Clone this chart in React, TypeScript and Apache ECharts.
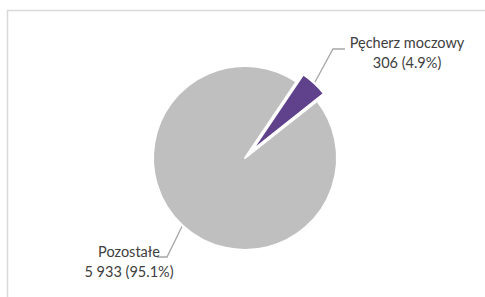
import React, { useEffect, useRef } from "react";
import * as echarts from "echarts";

const categories = ["Pęcherz moczowy", "Pozostałe"];
const values = [306, 5933];
const colors = ["#60418c", "#bfbfbf"];
const explodedIndex = 0;
const labelPositions = [
  [407, 52],
  [129, 261],
];

function fmtNum(v: number): string {
  return String(v).replace(/\B(?=(\d{3})+(?!\d))/g, " ");
}

const CENTER = [245, 158];
const RADIUS = 92;
const START = 56;
const EXPLODE = 10;

export default function App() {
  const ref = useRef<HTMLDivElement>(null);
  useEffect(() => {
    if (!ref.current) return;
    const chart = echarts.init(ref.current, null, { renderer: "svg" });
    const total = values.reduce((a, b) => a + b, 0);
    let before = 0;
    for (let i = 0; i < explodedIndex; i++) before += values[i];
    const midDeg =
      START - ((before + values[explodedIndex] / 2) / total) * 360;
    const midRad = (midDeg * Math.PI) / 180;
    const explodedCenter = [
      CENTER[0] + EXPLODE * Math.cos(midRad),
      CENTER[1] - EXPLODE * Math.sin(midRad),
    ];

    const labelCfg = {
      show: true,
      position: "outside",
      fontFamily: "Lato",
      fontSize: 14.5,
      color: "#404040",
      lineHeight: 20,
      formatter: (p: any) =>
        `${p.name}\n${fmtNum(p.value)} (${((p.value / total) * 100).toFixed(1)}%)`,
    };
    const lineCfg = {
      show: true,
      length: 30,
      length2: 10,
      lineStyle: { color: "#a6a6a6", width: 1.3 },
    };
    const layoutFn = (params: any) => {
      const pos = labelPositions[params.dataIndex];
      const anchor = params.labelLinePoints
        ? params.labelLinePoints[0]
        : [pos[0], pos[1]];
      let mid: number[];
      let end: number[];
      if (params.dataIndex === 0) {
        end = [pos[0] - 62, pos[1] - 3];
        mid = [end[0] - 12, end[1]];
      } else {
        end = [pos[0] + 28, pos[1] - 4];
        mid = [end[0] + 10, end[1]];
      }
      return {
        x: pos[0],
        y: pos[1],
        align: "center",
        verticalAlign: "middle",
        labelLinePoints: [anchor, mid, end],
      };
    };

    const makeData = (visibleIdx: (i: number) => boolean) =>
      categories.map((name, i) =>
        visibleIdx(i)
          ? {
              name,
              value: values[i],
              itemStyle: { color: colors[i], borderColor: "#ffffff", borderWidth: 2 },
            }
          : {
              name,
              value: values[i],
              itemStyle: { color: "rgba(0,0,0,0)", borderWidth: 0 },
              label: { show: false },
              labelLine: { show: false },
              emphasis: { disabled: true },
            }
      );

    const common = {
      type: "pie",
      radius: RADIUS,
      startAngle: START,
      clockwise: true,
      avoidLabelOverlap: false,
      silent: true,
      label: labelCfg,
      labelLine: lineCfg,
      labelLayout: layoutFn,
    };

    chart.setOption({
      animation: false,
      backgroundColor: "#ffffff",
      graphic: [
        {
          type: "rect",
          shape: { x: 7.5, y: 10.5, width: 520, height: 320 },
          style: { fill: "none", stroke: "#d9d9d9", lineWidth: 1.5 },
          silent: true,
        },
      ],
      series: [
        {
          ...common,
          name: "rest",
          center: CENTER,
          data: makeData((i) => i !== explodedIndex),
        },
        {
          ...common,
          name: "exploded",
          center: explodedCenter,
          data: makeData((i) => i === explodedIndex),
        },
      ],
    });
    return () => chart.dispose();
  }, []);
  return (
    <div
      ref={ref}
      style={{ position: "fixed", left: 0, top: 0, width: 485, height: 297 }}
    />
  );
}
